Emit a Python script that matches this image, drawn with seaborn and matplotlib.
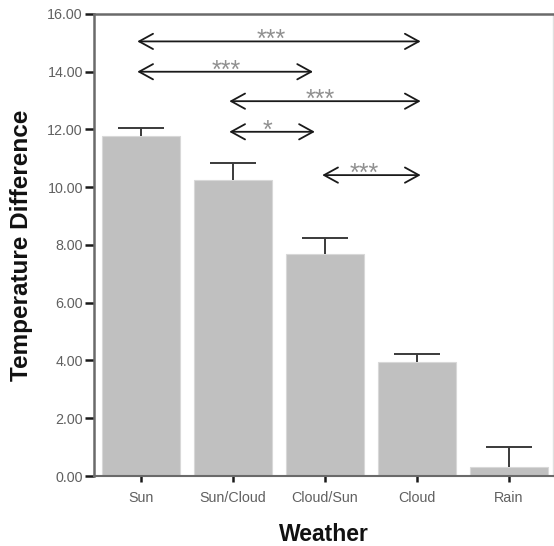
import matplotlib
matplotlib.use("Agg")
import matplotlib.pyplot as plt
import numpy as np
import pandas as pd
import seaborn as sns

# Data
weather = ["Sun", "Sun/Cloud", "Cloud/Sun", "Cloud", "Rain"]
temp_diff = [11.78, 10.24, 7.68, 3.95, 0.30]
temp_err = [0.28, 0.60, 0.56, 0.27, 0.72]

# Significance arrows: start, end, height, label, label x
sig_start = [-0.04, -0.04, 0.96, 0.96, 1.97]
sig_end = [3.04, 1.87, 3.04, 1.89, 3.04]
sig_y = [15.05, 14.0, 12.98, 11.92, 10.42]
sig_text = ["***", "***", "***", "*", "***"]
sig_text_x = [1.42, 0.93, 1.95, 1.38, 2.43]

yticks = [0, 2, 4, 6, 8, 10, 12, 14, 16]

df = pd.DataFrame({"Weather": weather, "Temperature Difference": temp_diff})

sns.set_style("white")
plt.rcParams["font.family"] = ["Liberation Sans", "DejaVu Sans"]

fig = plt.figure(figsize=(5.54, 5.46), dpi=100)
ax = fig.add_axes([0.1697, 0.1282, 0.8285, 0.8462])

sns.barplot(
    data=df, x="Weather", y="Temperature Difference", color="#c0c0c0",
    saturation=1, width=0.85, errorbar=None, edgecolor="#d8d8d8",
    linewidth=0.8, ax=ax,
)

# One-sided (upper) error bars
xpos = np.arange(len(weather))
tops = np.array(temp_diff) + np.array(temp_err)
ax.vlines(xpos, temp_diff, tops, color="#3a3a3a", lw=1.4, zorder=3)
ax.hlines(tops, xpos - 0.25, xpos + 0.25, color="#3a3a3a", lw=1.4, zorder=3)

# Significance arrows
for x0, x1, y, t, tx in zip(sig_start, sig_end, sig_y, sig_text, sig_text_x):
    ax.annotate(
        "", xy=(x1, y), xytext=(x0, y),
        arrowprops=dict(
            arrowstyle="<->,head_length=1.0,head_width=0.55",
            color="#1a1a1a", lw=1.3, shrinkA=0, shrinkB=0,
        ),
    )
    ax.text(tx, y - 0.2, t, ha="center", va="baseline", fontsize=18, color="#909090")

ax.set_xlim(-0.51, 4.478)
ax.set_ylim(0, 16)
ax.set_yticks(yticks)
ax.set_yticklabels([f"{v:.2f}" for v in yticks])

for side in ["left", "top"]:
    ax.spines[side].set_color("#6a6a6a")
    ax.spines[side].set_linewidth(1.8)
ax.spines["bottom"].set_color("#6a6a6a")
ax.spines["bottom"].set_linewidth(1.5)
ax.spines["right"].set_color("#e0e0e0")
ax.spines["right"].set_linewidth(1.0)

ax.tick_params(axis="y", direction="out", length=6.5, width=1.8, color="#1a1a1a",
               labelsize=10.3, labelcolor="#606060", pad=1.5, left=True)
ax.tick_params(axis="x", direction="out", length=4.5, width=1.8, color="#1a1a1a",
               labelsize=10.3, labelcolor="#606060", pad=6, bottom=True)

ax.set_xlabel("Weather", fontsize=16.5, fontweight="bold", color="#111111")
ax.set_ylabel("Temperature Difference", fontsize=17.5, fontweight="bold", color="#111111")
ax.yaxis.set_label_coords(-0.133, 0.5)
ax.xaxis.set_label_coords(0.5, -0.101)

fig.savefig("out.png", dpi=100)
